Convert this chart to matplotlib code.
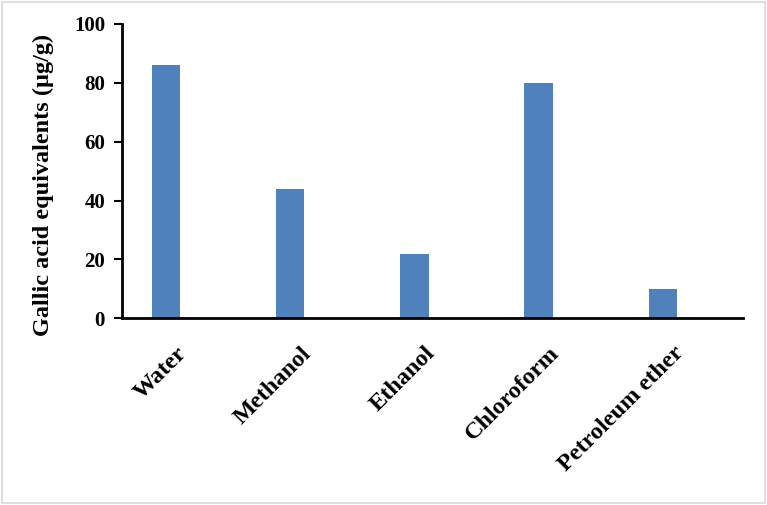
# Gallic acid equivalents by extraction solvent
import numpy as np
import matplotlib.pyplot as plt
from matplotlib.patches import Rectangle

# --- DATA ---
solvents = ["Water", "Methanol", "Ethanol", "Chloroform", "Petroleum ether"]
gae_values = [86, 44, 22, 80, 10]
y_ticks = [0, 20, 40, 60, 80, 100]

# --- STYLE ---
plt.rcParams['font.family'] = ['Liberation Serif', 'DejaVu Serif']
plt.rcParams['font.weight'] = 'bold'

fig = plt.figure(figsize=(7.67, 5.05), dpi=100)
ax = fig.add_axes([0.1587, 0.3697, 0.8096, 0.5828])

x = np.arange(len(solvents))
ax.bar(x, gae_values, width=0.228, color='#4f81bd', zorder=2)

ax.set_xlim(-0.357, len(solvents) - 0.357)
ax.set_ylim(0, 100)
ax.set_yticks(y_ticks)
ax.set_yticklabels([str(v) for v in y_ticks], fontsize=15, fontweight='bold')
ax.set_xticks(x + 0.143)
ax.set_xticklabels(solvents, fontsize=17.5, fontweight='bold',
                   rotation=45, ha='right', va='center', rotation_mode='anchor')
ax.tick_params(axis='x', length=0, pad=23)
ax.tick_params(axis='y', length=6, width=1.5, direction='out', pad=6)

for side in ['top', 'right']:
    ax.spines[side].set_visible(False)
for side in ['left', 'bottom']:
    ax.spines[side].set_linewidth(2)
    ax.spines[side].set_color('black')

ax.set_ylabel('Gallic acid equivalents (µg/g)', fontsize=17.5, fontweight='bold')
ax.yaxis.set_label_coords(-0.109, 0.4546)

# light frame around the whole chart
fig.patches.append(Rectangle((0.003, 0.004), 0.994, 0.992, transform=fig.transFigure,
                             fill=False, edgecolor='#d9d9d9', linewidth=1.2))

fig.savefig('out.png', dpi=100)
